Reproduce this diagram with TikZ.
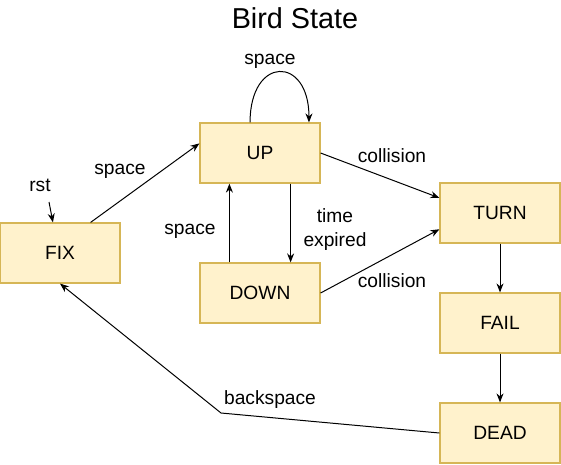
\documentclass[tikz,border=0pt]{standalone}
\usepackage{fontspec}
\setmainfont{Liberation Sans}
\usetikzlibrary{arrows.meta}
\definecolor{boxfill}{HTML}{FFF2CC}
\definecolor{boxline}{HTML}{D6B656}
\tikzset{
    statebox/.style={
           rectangle,
           draw=boxline, fill=boxfill,
           line width=1.2pt,
           minimum width=120pt,
           minimum height=60pt,
           inner sep=0pt,
           font=\fontsize{19.2}{23}\selectfont},
    lbl/.style={
           inner sep=0pt,
           align=center,
           font=\fontsize{19.2}{24}\selectfont},
    ttl/.style={
           inner sep=0pt,
           font=\fontsize{28.8}{34}\selectfont},
    fleche/.style={-{Stealth[length=9pt,width=7pt]}, black, line width=1pt}
    }
\begin{document}
\begin{tikzpicture}[x=1pt,y=-1pt]
      \useasboundingbox (0,0) rectangle (561,464);
      \node[ttl] (title) at (295,18) {Bird State};
      \node[statebox] (fix) at (60,253) {FIX};
      \node[statebox] (up) at (260,153) {UP};
      \node[statebox] (down) at (260,293) {DOWN};
      \node[statebox] (turn) at (500,213) {TURN};
      \node[statebox] (fail) at (500,323) {FAIL};
      \node[statebox] (dead) at (500,433) {DEAD};
      \node[lbl] (rst) at (40,185) {rst};
      \coordinate (rstin) at (49,202);
      \coordinate (bend) at (221,413);
      \draw[fleche] (rstin) -- (fix.103);
      \draw[fleche] (fix.45) -- (up.171) node[lbl] at (120,171) {space};
      \draw[fleche] (up.108.4) .. controls +(0,-67) and +(0,-67) .. (up.32.5) node[lbl] at (270,61) {space};
      \draw[fleche] (up.-45) -- (down.45) node[lbl] at (335,230) {time\\expired};
      \draw[fleche] (down.135) -- (up.-135) node[lbl] at (190,231) {space};
      \draw[fleche] (up.east) -- (turn.166) node[lbl] at (392,156) {collision};
      \draw[fleche] (down.east) -- (turn.195) node[lbl] at (392,281) {collision};
      \draw[fleche] (turn) -- (fail);
      \draw[fleche] (fail) -- (dead);
      \draw[fleche] (dead.west) -- (bend) -- (fix.south) node[lbl] at (270,400) {backspace};
\end{tikzpicture}
\end{document}
